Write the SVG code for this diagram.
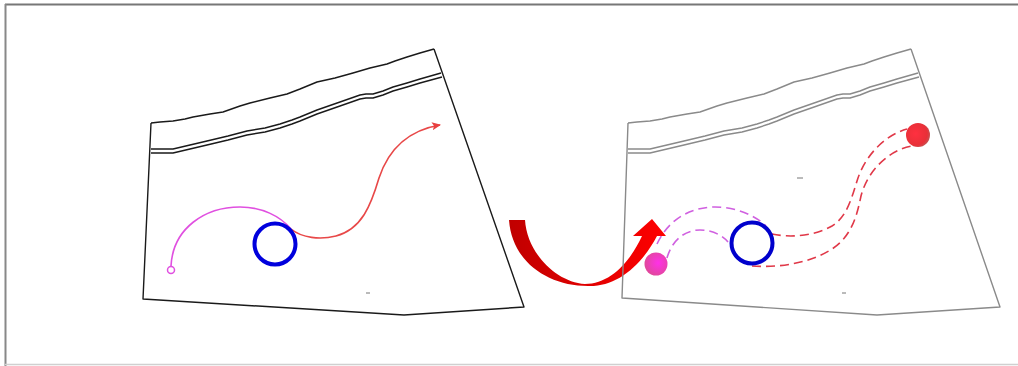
<svg xmlns="http://www.w3.org/2000/svg" width="1018" height="366" viewBox="0 0 1018 366">
<defs>
<style>
.frame{fill:none;stroke-width:1.4;stroke-linejoin:round}
.dk{stroke:#1a1a1a}
.lt{stroke:#8a8a8a}
.dash{fill:none;stroke-width:1.6;stroke-dasharray:9 5}
</style>
<linearGradient id="arrowGrad" x1="0" y1="0" x2="1" y2="0">
<stop offset="0" stop-color="#c00000"/>
<stop offset="0.5" stop-color="#e00000"/>
<stop offset="1" stop-color="#ff0000"/>
</linearGradient>
<radialGradient id="pinkBall" cx="0.6" cy="0.45" r="0.6">
<stop offset="0" stop-color="#ff30e8"/>
<stop offset="1" stop-color="#e0489a"/>
</radialGradient>
<radialGradient id="redBall" cx="0.4" cy="0.45" r="0.6">
<stop offset="0" stop-color="#ff3040"/>
<stop offset="0.8" stop-color="#e83038"/>
<stop offset="1" stop-color="#c85050"/>
</radialGradient>
<marker id="arrowRed" markerWidth="10" markerHeight="8" refX="8" refY="4" orient="auto" markerUnits="userSpaceOnUse">
<path d="M0,0 L9,4 L0,8 L2,4 Z" fill="#e84040"/>
</marker>
</defs>
<rect width="1018" height="366" fill="#ffffff"/>
<g id="border">
<line x1="5" y1="4.5" x2="1018" y2="4.5" stroke="#777" stroke-width="2"/>
<line x1="5.5" y1="4" x2="5.5" y2="366" stroke="#888" stroke-width="2"/>
<line x1="5" y1="364.5" x2="1018" y2="364.5" stroke="#d0d0d0" stroke-width="1.5"/>
</g>
<g id="left-scene">
<g id="left-frame" class="frame dk">
<polyline points="151,123 160,122 173,121 185,119 193,117 210,114 223,112 240,106 250,103 270,98 287,94 300,89 317,82 335,78 353,73 370,68 387,64 395,61 407,57 420,53 434,49"/>
<polyline points="151,123 143,299 404,315 524,307 434,49"/>
<polyline points="151,149 173,149 190,145 207,141 228,136 247,131 265,128 280,124 292,120 300,117 317,110 340,102 360,95 366,94 373,94 383,91 393,87 407,83 420,79 441,73"/>
<polyline points="151,153 173,153 190,149 207,145 228,140 247,135 265,132 280,128 292,124 300,121 317,114 340,106 360,99 366,98 373,98 383,95 393,91 407,87 420,83 442,77"/>
<line x1="366" y1="293" x2="370" y2="293" stroke="#777" stroke-width="1"/>
</g>
<g id="left-connectors">
<path d="M171,266 C173,228 205,207 240,207 C262,207 280,216 291,229" fill="none" stroke="#e050e0" stroke-width="1.6"/>
<path d="M291,229 C302,238 320,240 336,236 C362,229 371,205 379,178 C389,148 410,130 440,125" fill="none" stroke="#e84848" stroke-width="1.6" marker-end="url(#arrowRed)"/>
</g>
<g id="left-start">
<circle cx="171" cy="270" r="3.5" fill="#fff" stroke="#e050e0" stroke-width="1.5"/>
</g>
<g id="left-circle">
<circle cx="275" cy="244" r="20.5" fill="none" stroke="#0000dd" stroke-width="4"/>
</g>
</g>
<g id="transition-arrow">
<path d="M509,220 L525,220 C527,252 555,282 585,284 C610,284 630,262 642,236 L633,236 L652,219 L666,236 L657,236 C640,268 615,287 588,286 C548,286 512,262 509,220 Z" fill="url(#arrowGrad)"/>
</g>
<g id="right-scene">
<g id="right-frame" class="frame lt" transform="translate(477,0)">
<polyline points="151,123 160,122 173,121 185,119 193,117 210,114 223,112 240,106 250,103 270,98 287,94 300,89 317,82 335,78 353,73 370,68 387,64 395,61 407,57 420,53 434,49"/>
<polyline points="151,123 145,298 400,315 523,307 434,49"/>
<polyline points="151,149 173,149 190,145 207,141 228,136 247,131 265,128 280,124 292,120 300,117 317,110 340,102 360,95 366,94 373,94 383,91 393,87 407,83 420,79 441,73"/>
<polyline points="151,153 173,153 190,149 207,145 228,140 247,135 265,132 280,128 292,124 300,121 317,114 340,106 360,99 366,98 373,98 383,95 393,91 407,87 420,83 442,77"/>
</g>
<line x1="797" y1="178" x2="803" y2="178" stroke="#777" stroke-width="1"/>
<line x1="842" y1="293" x2="846" y2="293" stroke="#777" stroke-width="1"/>
<g id="right-connectors">
<path class="dash" d="M657,244 C668,220 690,207 715,207 C735,207 755,215 766,226" stroke="#d060e0"/>
<path class="dash" d="M667,258 C672,240 685,230 700,230 C712,230 722,235 728,242" stroke="#d060e0"/>
<path class="dash" d="M772,234 C790,238 815,236 832,226 C848,216 852,196 858,178 C866,155 885,135 907,129" stroke="#e03848"/>
<path class="dash" d="M752,266 C780,268 810,263 832,249 C852,236 857,215 861,196 C867,172 888,150 912,146" stroke="#e03848"/>
</g>
<g id="right-start">
<circle cx="656" cy="264" r="11.5" fill="url(#pinkBall)"/>
</g>
<g id="right-end">
<circle cx="918" cy="135" r="12" fill="url(#redBall)"/>
</g>
<g id="right-circle">
<circle cx="752" cy="243" r="20.5" fill="none" stroke="#0000cc" stroke-width="4"/>
</g>
</g>
</svg>
